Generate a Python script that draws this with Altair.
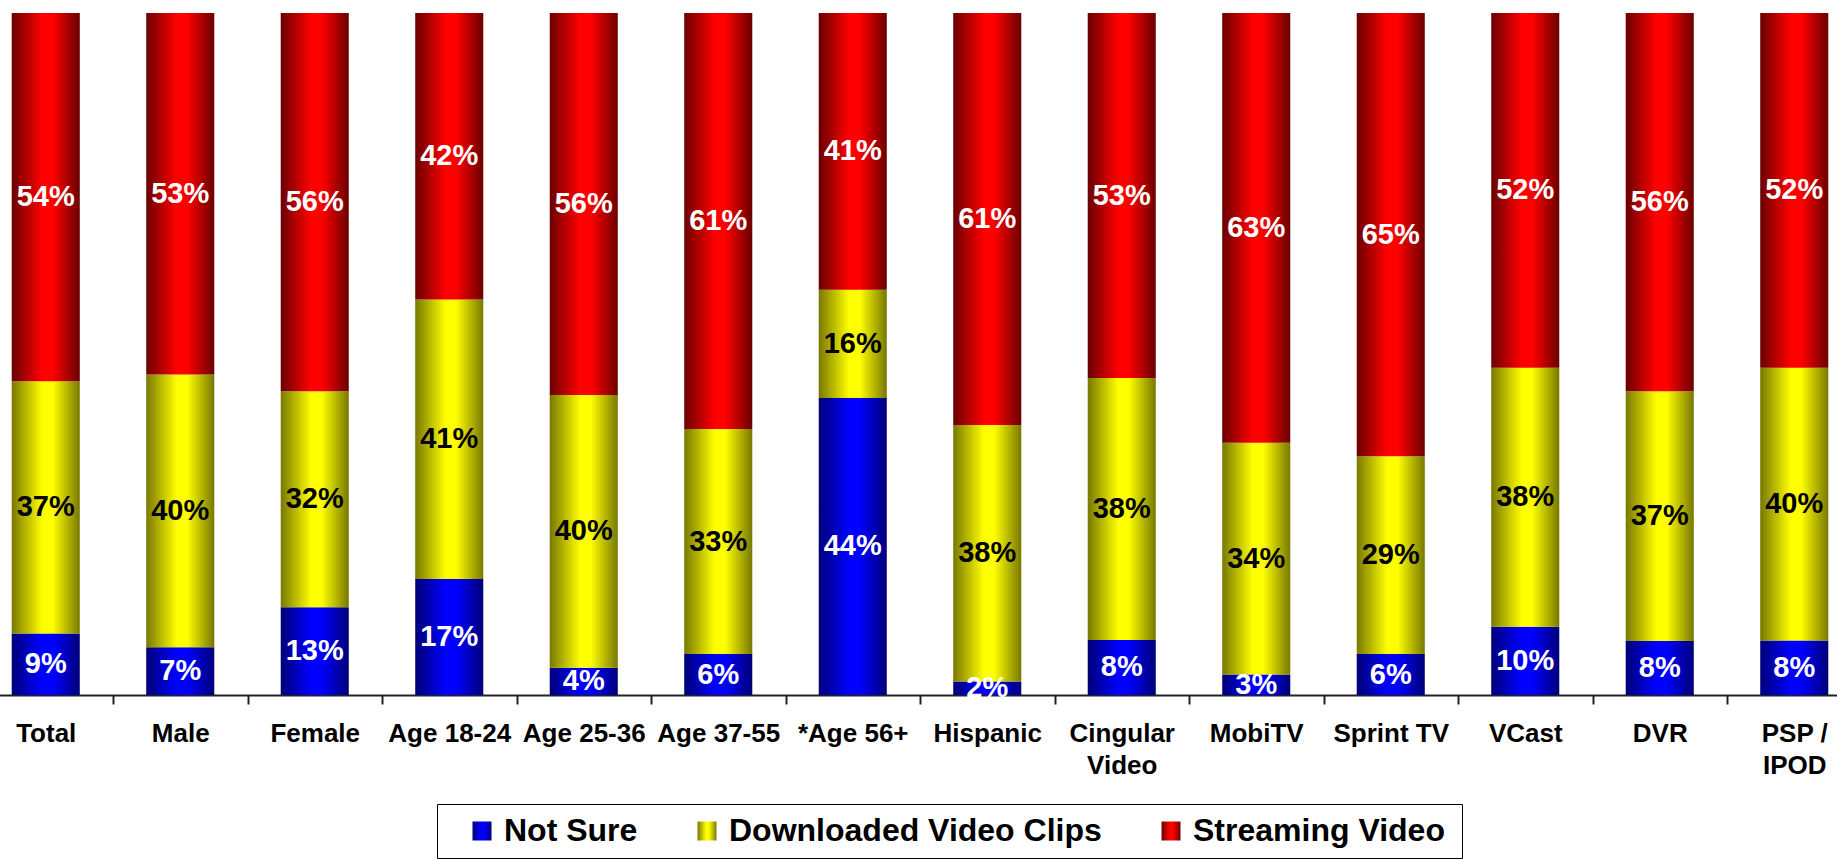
import altair as alt
import pandas as pd

categories = ["Total", "Male", "Female", "Age 18-24", "Age 25-36", "Age 37-55",
              "*Age 56+", "Hispanic", "Cingular Video", "MobiTV", "Sprint TV",
              "VCast", "DVR", "PSP / IPOD"]
not_sure = [9, 7, 13, 17, 4, 6, 44, 2, 8, 3, 6, 10, 8, 8]
downloaded = [37, 40, 32, 41, 40, 33, 16, 38, 38, 34, 29, 38, 37, 40]
streaming = [54, 53, 56, 42, 56, 61, 41, 61, 53, 63, 65, 52, 56, 52]
series = ["Not Sure", "Downloaded Video Clips", "Streaming Video"]
text_colors = ["white", "black", "white"]

rows = []
for i, cat in enumerate(categories):
    for k, (name, vals) in enumerate(zip(series, [not_sure, downloaded, streaming])):
        rows.append({"category": cat, "series": name, "value": vals[i],
                     "order": k, "tc": text_colors[k]})
df = pd.DataFrame(rows)


def grad(dark, bright):
    return {"expr": ("{gradient: 'linear', x1: 0, y1: 0, x2: 1, y2: 0, stops: ["
                     f"{{offset: 0, color: '{dark}'}}, "
                     f"{{offset: 0.45, color: '{bright}'}}, "
                     f"{{offset: 0.6, color: '{bright}'}}, "
                     f"{{offset: 1, color: '{dark}'}}]}}")}


color_range = [grad("#000078", "#0000ff"), grad("#787800", "#ffff00"), grad("#6a0000", "#ff0000")]

base = alt.Chart(df).transform_stack(
    stack="value", groupby=["category"], as_=["y0", "y1"],
    sort=[alt.SortField("order")], offset="normalize"
).transform_calculate(
    mid="(datum.y0 + datum.y1) / 2",
    label="datum.value + '%'"
)

xenc = alt.X(
    "category:N", sort=categories,
    scale=alt.Scale(range=[-21.5, 1861.5], paddingInner=0, paddingOuter=0),
    axis=alt.Axis(
        title=None, labelAngle=0, tickBand="extent",
        labelFont="Liberation Sans", labelFontSize=26, labelFontWeight="bold",
        labelColor="black", labelPadding=16, labelLineHeight=32, labelLimit=300,
        tickSize=9, tickWidth=2, tickColor="#222222",
        domainColor="#222222", domainWidth=2, grid=False,
        labelExpr=("datum.label == 'Cingular Video' ? ['Cingular', 'Video'] : "
                   "datum.label == 'PSP / IPOD' ? ['PSP /', 'IPOD'] : datum.label"),
    ),
)
yscale = alt.Scale(domain=[0, 1], nice=False, zero=True)

bars = base.mark_bar(width=alt.RelativeBandSize(0.506)).encode(
    x=xenc,
    y=alt.Y("y0:Q", scale=yscale, axis=None),
    y2="y1:Q",
    color=alt.Color(
        "series:N",
        scale=alt.Scale(domain=series, range=color_range),
        legend=alt.Legend(
            title=" ", titleOrient="right", titlePadding=6, titleFontSize=10,
            orient="none", legendX=437, legendY=791,
            direction="horizontal", symbolType="square", symbolSize=361,
            labelFont="Liberation Sans", labelFontSize=32, labelFontWeight="bold",
            labelColor="black", labelOffset=6, columnPadding=35, symbolOffset=18,
            padding=11, strokeColor="black", labelLimit=1000,
        ),
    ),
    order=alt.Order("order:Q"),
)

texts = base.mark_text(
    font="Liberation Sans", fontSize=29, fontWeight="bold", baseline="middle"
).encode(
    x=xenc,
    y=alt.Y("mid:Q", scale=yscale, axis=None),
    text="label:N",
    fill=alt.Fill("tc:N", scale=None, legend=None),
)

chart = alt.layer(bars, texts).properties(
    width=1837, height=682,
    autosize=alt.AutoSizeParams(type="none"),
    padding={"left": 0, "top": 13, "right": 0, "bottom": 165},
).configure_view(stroke=None)

chart.save("out.html", embed_options={"renderer": "svg", "actions": False})
